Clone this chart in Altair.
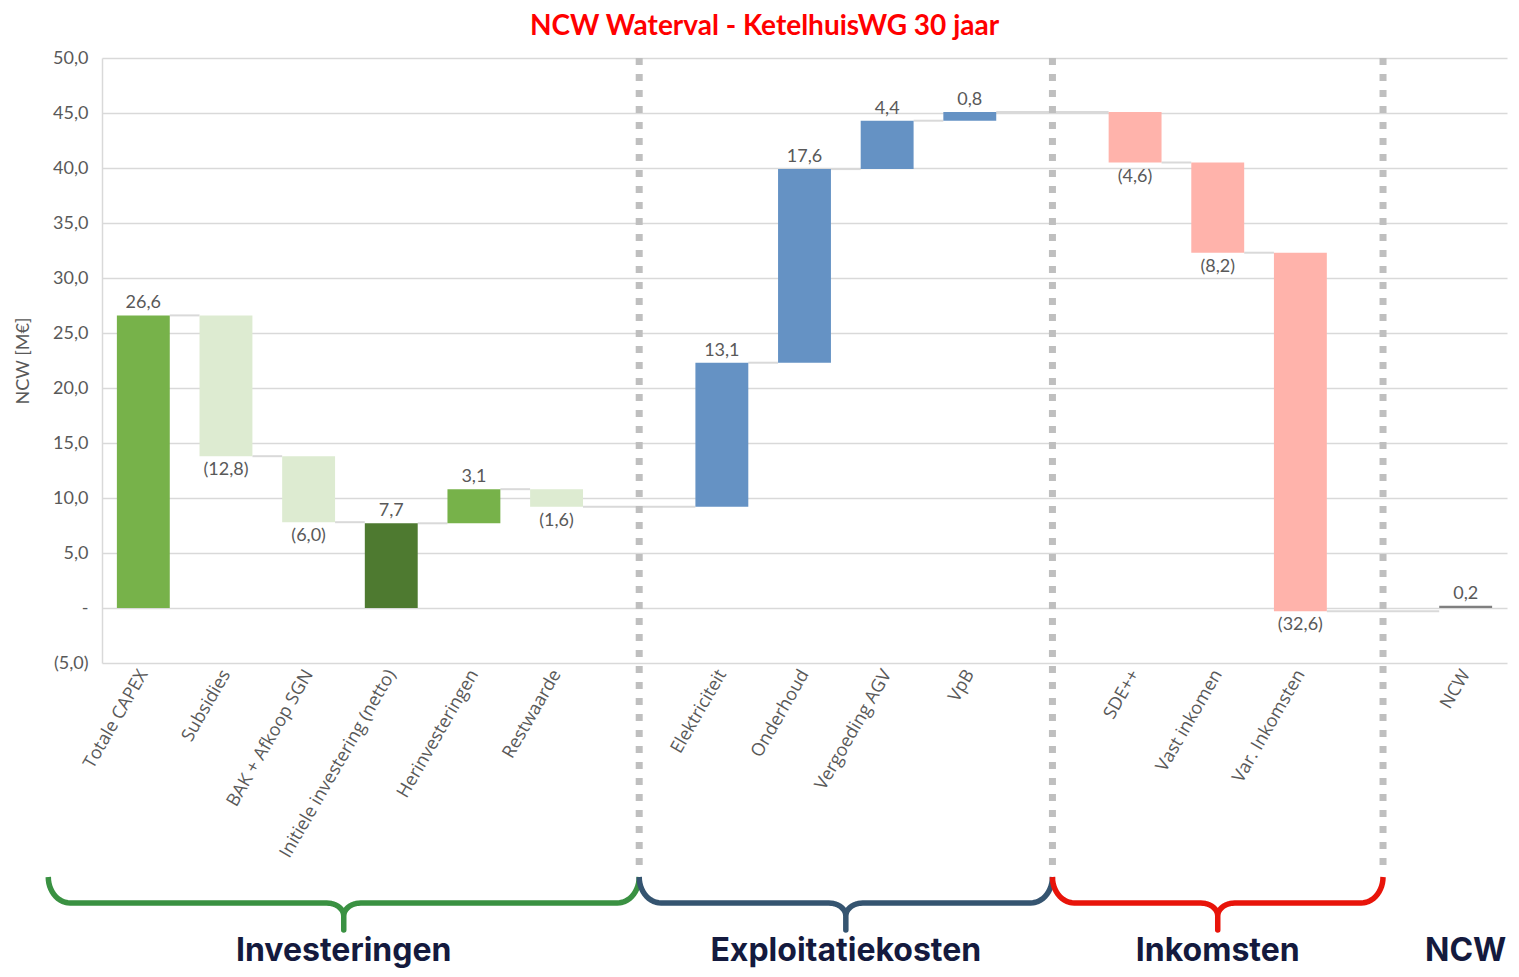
import json
import numpy as np
import pandas as pd
import altair as alt

# ---------------- data ----------------
categories = ["Totale CAPEX", "Subsidies", "BAK + Afkoop SGN", "Initiele investering (netto)",
              "Herinvesteringen", "Restwaarde",
              "Elektriciteit", "Onderhoud", "Vergoeding AGV", "VpB",
              "SDE++", "Vast inkomen", "Var. Inkomsten",
              "NCW"]
values = [26.6, -12.8, -6.0, 7.7, 3.1, -1.6,
          13.1, 17.6, 4.4, 0.8,
          -4.6, -8.2, -32.6,
          0.2]
is_total = [True, False, False, True, False, False,
            False, False, False, False,
            False, False, False,
            True]
kinds = ["Investering", "Aftrek", "Aftrek", "Netto", "Investering", "Aftrek",
         "Exploitatie", "Exploitatie", "Exploitatie", "Exploitatie",
         "Inkomsten", "Inkomsten", "Inkomsten",
         "NCW"]
groups = ["Investeringen"] * 6 + ["Exploitatiekosten"] * 4 + ["Inkomsten"] * 3 + ["NCW"]
group_names = ["Investeringen", "Exploitatiekosten", "Inkomsten", "NCW"]

kind_domain = ["Investering", "Aftrek", "Netto", "Exploitatie", "Inkomsten", "NCW"]
kind_colors = ["#77B24A", "#DDEBD1", "#4E7A30", "#6592C4", "#FFB3AB", "#7F7F7F"]
brace_colors = ["#3A9142", "#355470", "#E8140A"]

# ---------------- layout ----------------
W, H = 1405, 605
NSLOT = 17
YMIN, YMAX = -5, 50
PX_SLOT = W / NSLOT
PX_UNIT = H / (YMAX - YMIN)
HALF = 0.32


def below(px):
    """value for a position px pixels below the plot bottom"""
    return YMIN - px / PX_UNIT


slots = []
s = 0
for i, g in enumerate(groups):
    if i > 0 and g != groups[i - 1]:
        s += 2
    elif i > 0:
        s += 1
    slots.append(s)

level = 0.0
starts, ends = [], []
for v, tot in zip(values, is_total):
    if tot:
        st, en = 0.0, v
    else:
        st, en = level, level + v
    level = en
    starts.append(st)
    ends.append(en)


def fmt(v):
    t = f"{abs(v):.1f}".replace(".", ",")
    return f"({t})" if v < 0 else t


bars = pd.DataFrame({
    "cat": categories, "slot": slots, "kind": kinds,
    "x": [p - HALF for p in slots], "x2": [p + HALF for p in slots],
    "start": starts, "end": ends,
    "label": [fmt(v) for v in values],
    "pos": ["below" if v < 0 else "above" for v in values],
})
bars["top"] = bars[["start", "end"]].max(axis=1)
bars["bottom"] = bars[["start", "end"]].min(axis=1)

conn = pd.DataFrame({
    "x": [slots[i] + HALF for i in range(len(slots) - 1)],
    "x2": [slots[i + 1] - HALF for i in range(len(slots) - 1)],
    "y": ends[:-1],
})

gap_slots = [slots[i] + 1 for i in range(len(slots) - 1) if slots[i + 1] - slots[i] == 2]
dots = pd.DataFrame({"x": gap_slots, "y": [YMAX] * len(gap_slots),
                     "y2": [below(207)] * len(gap_slots)})

brace_spans = [(-1.15, gap_slots[0]), (gap_slots[0], gap_slots[1]), (gap_slots[1], gap_slots[2])]


def brace(x0s, x1s, name):
    x0, x1 = x0s * PX_SLOT, x1s * PX_SLOT
    xm = (x0 + x1) / 2
    R, RY, C, D, BOT = 22, 26, 17, 13, 53
    pts = []
    for t in np.linspace(0, np.pi / 2, 14):
        pts.append((x0 + R * (1 - np.cos(t)), RY * np.sin(t)))
    for t in np.linspace(0, np.pi / 2, 12):
        pts.append((xm - C + C * np.sin(t), RY + D * (1 - np.cos(t))))
    pts.append((xm, BOT))
    pts.append((xm, BOT - 0.01))
    for t in np.linspace(np.pi / 2, 0, 12):
        pts.append((xm + C - C * np.sin(t), RY + D * (1 - np.cos(t))))
    for t in np.linspace(np.pi / 2, 0, 14):
        pts.append((x1 - R * (1 - np.cos(t)), RY * np.sin(t)))
    rows = []
    for k, (px, py) in enumerate(pts):
        rows.append({"grp": name, "o": k, "x": px / PX_SLOT, "y": below(214 + py)})
    return rows


brace_rows = []
for (a, b), name in zip(brace_spans, group_names[:3]):
    brace_rows += brace(a, b, name)
braces = pd.DataFrame(brace_rows)

glabels = pd.DataFrame({
    "txt": group_names,
    "x": [(a + b) / 2 for a, b in brace_spans] + [slots[-1]],
    "y": [below(298)] * 4,
})

# ---------------- chart ----------------
xs = alt.Scale(domain=[-0.5, NSLOT - 0.5], nice=False, zero=False)
ys = alt.Scale(domain=[YMIN, YMAX], nice=False, zero=False)

names_by_slot = [""] * NSLOT
for c, p in zip(categories, slots):
    names_by_slot[p] = c
x_label_expr = json.dumps(names_by_slot) + "[datum.value]"
y_label_expr = ("datum.value == 0 ? '-' : (datum.value < 0 ? '(' + replace(format(-datum.value, '.1f'), '.', ',') + ')'"
                " : replace(format(datum.value, '.1f'), '.', ','))")

x_axis = alt.Axis(values=slots, labelExpr=x_label_expr, labelAngle=-60, labelAlign="right",
                  labelBaseline="middle", labelFont="Open Sans", labelFontSize=18, labelColor="#595959",
                  labelPadding=8, labelLimit=600, ticks=False, domain=False, grid=False, title=None,
                  labelFlush=False, labelOverlap=False, labelBound=False)
y_axis = alt.Axis(values=list(range(YMIN, YMAX + 1, 5)), labelExpr=y_label_expr, labelFontSize=18,
                  labelColor="#595959", labelPadding=14, ticks=False, domainColor="#D9D9D9",
                  domainWidth=1.5, gridColor="#D9D9D9", gridWidth=1.5, title="NCW [M€]",
                  titleFontSize=18, titleFontWeight="normal", titleColor="#595959", titlePadding=20)

base_grid = alt.Chart(bars).mark_bar(opacity=0).encode(
    x=alt.X("x:Q", scale=xs, axis=x_axis),
    x2="x2",
    y=alt.Y("start:Q", scale=ys, axis=y_axis),
    y2="end",
)

connectors = alt.Chart(conn).mark_rule(color="#D9D9D9", strokeWidth=2).encode(
    x=alt.X("x:Q", scale=xs), x2="x2", y=alt.Y("y:Q", scale=ys)
)

bar_layer = alt.Chart(bars).mark_bar(cornerRadius=0).encode(
    x=alt.X("x:Q", scale=xs),
    x2="x2",
    y=alt.Y("start:Q", scale=ys),
    y2="end",
    color=alt.Color("kind:N", scale=alt.Scale(domain=kind_domain, range=kind_colors), legend=None),
)

dotted = alt.Chart(dots).mark_rule(color="#BFBFBF", strokeWidth=7, strokeDash=[7, 9]).encode(
    x=alt.X("x:Q", scale=xs), y=alt.Y("y:Q", scale=ys), y2="y2"
)

lab_above = alt.Chart(bars).transform_filter("datum.pos == 'above'").mark_text(
    baseline="bottom", dy=-3, fontSize=18, color="#595959"
).encode(x=alt.X("slot:Q", scale=xs), y=alt.Y("top:Q", scale=ys), text="label:N")

lab_below = alt.Chart(bars).transform_filter("datum.pos == 'below'").mark_text(
    baseline="top", dy=5, fontSize=18, color="#595959"
).encode(x=alt.X("slot:Q", scale=xs), y=alt.Y("bottom:Q", scale=ys), text="label:N")

brace_layer = alt.Chart(braces).mark_line(strokeWidth=5.5, strokeCap="butt", strokeJoin="round").encode(
    x=alt.X("x:Q", scale=xs),
    y=alt.Y("y:Q", scale=ys),
    order="o:Q",
    color=alt.Color("grp:N", scale=alt.Scale(domain=group_names[:3], range=brace_colors), legend=None),
)

group_text = alt.Chart(glabels).mark_text(
    font="Inter", fontWeight="bold", fontSize=32, color="#141A3E", baseline="alphabetic", align="center"
).encode(x=alt.X("x:Q", scale=xs), y=alt.Y("y:Q", scale=ys), text="txt:N")

chart = alt.layer(
    base_grid, connectors, bar_layer, dotted, lab_above, lab_below, brace_layer, group_text
).resolve_scale(color="independent").properties(
    width=W, height=H,
    title=alt.TitleParams("NCW Waterval - KetelhuisWG 30 jaar", font="Lato", fontSize=28,
                          fontWeight="bold", color="#FF0000", anchor="middle", dx=-40, offset=8),
    autosize=alt.AutoSizeParams(type="none"),
    padding={"left": 94, "top": 50, "right": 4, "bottom": 306},
).configure(font="Lato").configure_view(strokeWidth=0)

chart.save("out.html", embed_options={"renderer": "svg", "actions": False})
